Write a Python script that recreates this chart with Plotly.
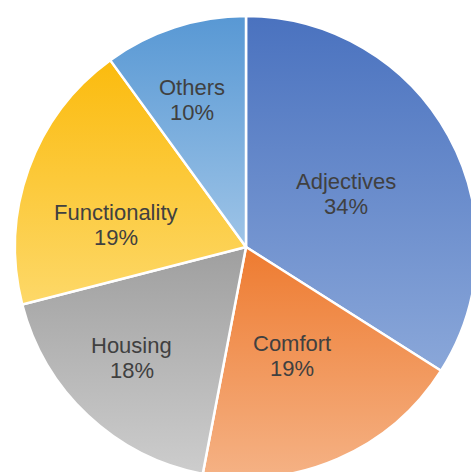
import json
import math
import plotly.graph_objects as go

# Share of mentions by category
categories = ["Adjectives", "Comfort", "Housing", "Functionality", "Others"]
shares = [34, 19, 18, 19, 10]

# Per-slice vertical gradient (top colour, bottom colour)
gradients = [
    ("#4a72bf", "#8aa7d9"),
    ("#ee7b30", "#f5b285"),
    ("#9f9f9f", "#cdcdcd"),
    ("#fbbb0e", "#fdd868"),
    ("#5898d4", "#9ec4e7"),
]
base_colors = ["#6a8ccc", "#f19658", "#b7b7b7", "#fcc93b", "#7aaede"]

# Label placement inside each slice: (angle nudge in degrees, fraction of radius)
label_place = [(1.1, 0.49), (0.5, 0.51), (2.6, 0.69), (-10.3, 0.57), (-2.2, 0.68)]

W, H = 492, 494
cx, cy, r = 246, 247, 231
line_gap = 12.5
font = dict(family="Liberation Sans, Arial, sans-serif", size=22, color="#404040")

fig = go.Figure(
    go.Pie(
        labels=categories,
        values=shares,
        sort=False,
        direction="clockwise",
        rotation=0,
        textinfo="none",
        marker=dict(colors=base_colors, line=dict(color="white", width=2.5)),
        domain=dict(
            x=[(cx - r) / W, (cx + r) / W],
            y=[(H - cy - r) / H, (H - cy + r) / H],
        ),
        hoverinfo="skip",
        showlegend=False,
    )
)

total = sum(shares)
cum = 0.0
for name, v, (nudge, frac) in zip(categories, shares, label_place):
    theta = math.radians((cum + v / 2) / total * 360 + nudge)
    cum += v
    px = cx + frac * r * math.sin(theta)
    py = cy - frac * r * math.cos(theta)
    for text, dy in ((name, -line_gap), (f"{v / total * 100:.0f}%", line_gap)):
        fig.add_annotation(
            x=px / W,
            y=1 - (py + dy) / H,
            xref="paper",
            yref="paper",
            text=text,
            showarrow=False,
            xanchor="center",
            yanchor="middle",
            font=font,
        )

fig.update_layout(
    width=W,
    height=H,
    margin=dict(l=0, r=0, t=0, b=0),
    paper_bgcolor="white",
    plot_bgcolor="white",
    showlegend=False,
)

post = """
document.documentElement.style.overflow = 'hidden';
document.body.style.overflow = 'hidden';
document.body.style.margin = '0';
var gd = document.getElementById('{plot_id}');
var grads = %s;
var NS = 'http://www.w3.org/2000/svg';
var svg = gd.querySelector('svg.main-svg');
var defs = svg.querySelector('defs');
if (!defs) { defs = document.createElementNS(NS, 'defs'); svg.insertBefore(defs, svg.firstChild); }
var paths = gd.querySelectorAll('g.slice path.surface');
paths.forEach(function (p, i) {
  var g = document.createElementNS(NS, 'linearGradient');
  g.setAttribute('id', 'slicegrad' + i);
  g.setAttribute('x1', '0'); g.setAttribute('y1', '0');
  g.setAttribute('x2', '0'); g.setAttribute('y2', '1');
  [[0, grads[i][0]], [1, grads[i][1]]].forEach(function (s) {
    var st = document.createElementNS(NS, 'stop');
    st.setAttribute('offset', s[0]);
    st.setAttribute('stop-color', s[1]);
    g.appendChild(st);
  });
  defs.appendChild(g);
  p.style.fill = 'url(#slicegrad' + i + ')';
});
""" % json.dumps(gradients)

fig.write_html("out.html", post_script=post)
